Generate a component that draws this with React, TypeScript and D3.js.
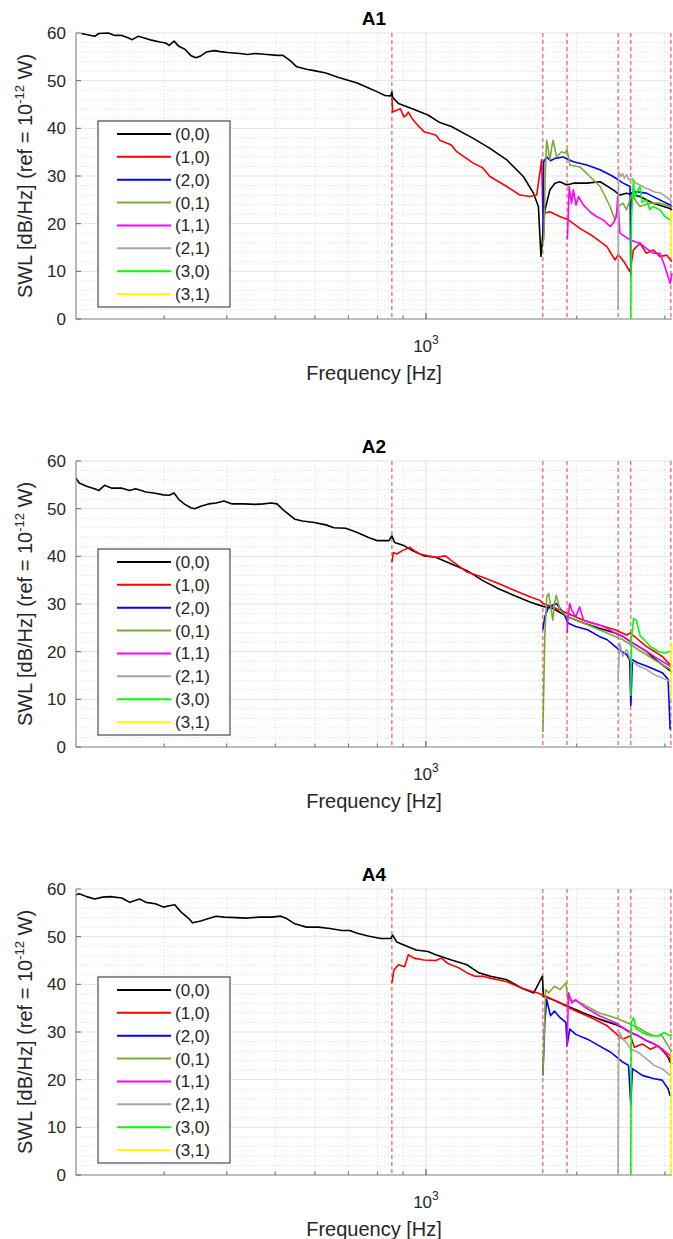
import React from 'react';
import * as d3 from 'd3';

// ---------- data ----------
const MODES = ['(0,0)', '(1,0)', '(2,0)', '(0,1)', '(1,1)', '(2,1)', '(3,0)', '(3,1)'];
const MODE_COLORS = ['#000000', '#ff0000', '#0000ff', '#77ac30', '#ff00ff', '#a6a6a6', '#00ff00', '#ffff00'];
const TITLES = ['A1', 'A2', 'A4'];
const CUTON_HZ = [855, 1712, 1913, 2420, 2565, 3084];
const X_DOMAIN = [200, 3100];
const Y_DOMAIN = [0, 60];
const Y_TICKS = [0, 10, 20, 30, 40, 50, 60];
const Y_MINOR = [2, 4, 6, 8, 12, 14, 16, 18, 22, 24, 26, 28, 32, 34, 36, 38, 42, 44, 46, 48, 52, 54, 56, 58];
const X_MAJOR = [1000];
const X_MINOR = [300, 400, 500, 600, 700, 800, 900, 2000, 3000];

type P = [number, number];

// ---- A1 ----
const a1_00: P[] = [[205, 59.9], [218, 59.3], [222, 59.9], [232, 60.0], [239, 59.5], [247, 59.5], [254, 59.0], [259, 58.6], [266, 59.3], [273, 59.0], [283, 58.5], [294, 58.1], [302, 57.9], [307, 57.4], [314, 58.3], [321, 57.2], [330, 56.6], [339, 55.3], [347, 54.8], [355, 55.2], [364, 56.0], [378, 56.3], [388, 56.1], [402, 55.9], [425, 55.7], [440, 55.5], [456, 55.7], [482, 55.5], [504, 55.3], [518, 55.3], [537, 54.1], [552, 52.9], [577, 52.4], [598, 52.1], [631, 51.6], [667, 50.7], [704, 50.0], [729, 49.5], [770, 48.4], [798, 47.7], [828, 46.9], [850, 46.8], [855, 47.6], [858, 46.5], [881, 45.2], [939, 44.1], [1009, 42.8], [1066, 41.2], [1124, 40.4], [1243, 37.9], [1342, 35.8], [1450, 33.4], [1565, 29.9], [1639, 26.4], [1677, 23.6], [1697, 13.1], [1712, 18.0], [1727, 22.7], [1768, 27.1], [1810, 28.5], [1851, 28.8], [1910, 28.1], [1970, 28.5], [2095, 28.5], [2227, 28.8], [2366, 27.1], [2440, 26.0], [2515, 26.4], [2675, 25.7], [2843, 24.3], [3073, 23.2], [3100, 22.8]];
const a1_10: P[] = [[855, 46.5], [858, 43.4], [874, 43.8], [889, 44.1], [903, 42.4], [914, 42.8], [922, 43.4], [939, 42.0], [956, 41.0], [991, 39.3], [1046, 38.6], [1066, 37.5], [1124, 36.5], [1152, 35.1], [1243, 32.7], [1299, 31.7], [1342, 29.9], [1450, 27.8], [1541, 26.0], [1613, 25.7], [1664, 26.0], [1702, 33.4], [1712, 22.2], [1768, 22.5], [1851, 21.5], [1925, 20.8], [2030, 19.0], [2160, 17.3], [2298, 15.2], [2385, 12.4], [2420, 13.5], [2440, 13.1], [2497, 11.7], [2556, 9.9], [2596, 14.5], [2675, 15.9], [2756, 13.8], [2843, 14.5], [2933, 13.1], [3026, 13.4], [3096, 12.0]];
const a1_20: P[] = [[1712, 17.8], [1718, 33.0], [1742, 34.0], [1773, 33.2], [1810, 33.7], [1880, 34.0], [1970, 33.0], [2095, 32.3], [2227, 31.3], [2366, 29.9], [2476, 28.5], [2556, 27.8], [2565, 9.0], [2570, 26.5], [2633, 26.7], [2756, 26.4], [2890, 25.3], [3073, 23.9], [3100, 23.5]];
const a1_01: P[] = [[1712, 15.7], [1721, 17.3], [1730, 30.0], [1742, 37.5], [1768, 33.4], [1783, 36.0], [1795, 37.5], [1823, 34.0], [1865, 35.1], [1894, 34.8], [1914, 35.5], [1938, 32.3], [2030, 31.9], [2125, 29.9], [2227, 27.8], [2332, 23.6], [2385, 20.8], [2420, 23.6], [2476, 24.3], [2515, 22.9], [2575, 26.0], [2675, 23.6], [2799, 24.3], [2933, 24.3], [3073, 23.6], [3100, 23.4]];
const a1_11: P[] = [[1913, 16.8], [1917, 17.3], [1932, 27.8], [1953, 24.3], [1970, 27.1], [1994, 23.9], [2016, 25.7], [2063, 23.9], [2125, 22.5], [2191, 21.5], [2258, 20.8], [2332, 19.4], [2366, 20.1], [2402, 21.5], [2415, 25.7], [2440, 18.0], [2556, 16.6], [2675, 15.9], [2756, 14.8], [2843, 13.8], [2933, 13.8], [3000, 11.0], [3073, 7.5], [3100, 9.6]];
const a1_21: P[] = [[2420, 2.0], [2425, 30.9], [2450, 29.9], [2470, 30.5], [2490, 29.5], [2515, 30.3], [2545, 29.2], [2580, 29.5], [2620, 28.6], [2675, 28.1], [2730, 27.6], [2800, 27.1], [2870, 26.6], [2933, 26.5], [3000, 25.8], [3073, 25.0], [3100, 24.6]];
const a1_30: P[] = [[2565, 0], [2570, 18.0], [2575, 22.2], [2596, 29.2], [2610, 25.5], [2633, 26.4], [2675, 27.8], [2700, 24.5], [2756, 25.0], [2800, 23.0], [2843, 23.6], [2933, 22.9], [3000, 21.5], [3073, 20.8], [3100, 21.0]];
const a1_31: P[] = [[3084, 13.0], [3087, 22.7], [3100, 21.5]];

// ---- A2 ----
const a2_00: P[] = [[200, 56.4], [203, 55.4], [210, 54.7], [220, 54.0], [222, 53.8], [228, 54.9], [236, 54.3], [247, 54.3], [256, 53.8], [263, 54.2], [276, 53.5], [286, 53.3], [299, 52.9], [307, 52.8], [314, 53.3], [321, 51.9], [330, 50.9], [339, 50.2], [345, 50.0], [355, 50.5], [368, 51.0], [381, 51.2], [395, 51.6], [410, 51.0], [432, 51.0], [456, 50.9], [473, 51.0], [491, 51.2], [504, 51.0], [518, 49.8], [532, 48.8], [547, 47.8], [567, 47.4], [598, 47.1], [631, 46.6], [655, 46.0], [691, 45.9], [729, 45.0], [770, 43.9], [798, 43.3], [843, 43.3], [855, 44.3], [866, 42.9], [906, 42.2], [939, 41.2], [991, 40.1], [1046, 39.8], [1124, 38.4], [1208, 37.0], [1299, 34.9], [1396, 33.2], [1500, 31.8], [1613, 30.4], [1712, 29.5], [1789, 29.1], [1920, 27.3], [2064, 26.0], [2219, 24.9], [2386, 23.9], [2472, 23.2], [2561, 22.1], [2656, 21.1], [2754, 20.1], [2856, 18.6], [2963, 17.3], [3073, 16.0], [3100, 15.8]];
const a2_10: P[] = [[855, 38.8], [861, 40.8], [874, 40.5], [897, 41.2], [930, 41.9], [947, 41.2], [973, 40.5], [1009, 40.1], [1046, 39.8], [1094, 40.1], [1124, 39.1], [1208, 36.7], [1299, 35.6], [1396, 34.3], [1500, 32.9], [1613, 31.5], [1687, 30.8], [1712, 30.1], [1789, 29.4], [1920, 28.0], [2064, 26.6], [2219, 25.6], [2386, 24.6], [2516, 23.5], [2561, 23.9], [2656, 22.5], [2754, 21.1], [2856, 20.1], [2963, 19.0], [3073, 17.3], [3100, 17.0]];
const a2_20: P[] = [[1712, 24.6], [1727, 27.3], [1758, 29.4], [1821, 30.1], [1886, 28.0], [1920, 26.0], [1991, 25.3], [2102, 24.6], [2219, 23.2], [2301, 22.5], [2386, 21.1], [2429, 20.4], [2516, 19.4], [2552, 18.3], [2565, 8.7], [2584, 18.3], [2656, 17.6], [2754, 17.0], [2856, 16.3], [2963, 15.6], [3045, 14.2], [3073, 3.8], [3084, 3.8]];
const a2_01: P[] = [[1712, 3.1], [1727, 23.2], [1742, 31.5], [1758, 32.2], [1792, 26.6], [1805, 30.1], [1821, 31.8], [1853, 28.7], [1920, 27.3], [2064, 26.0], [2219, 24.6], [2386, 23.2], [2472, 22.5], [2561, 21.5], [2656, 20.4], [2754, 19.4], [2856, 18.3], [2963, 17.3], [3073, 16.3], [3100, 16.0]];
const a2_11: P[] = [[1913, 23.9], [1920, 26.6], [1937, 30.1], [1955, 28.7], [1991, 27.3], [2027, 29.4], [2064, 26.6], [2140, 26.0], [2219, 25.6], [2301, 24.9], [2386, 23.9], [2472, 23.2], [2561, 22.1], [2656, 21.1], [2754, 20.1], [2856, 19.0], [2963, 18.0], [3073, 17.0], [3100, 16.8]];
const a2_21: P[] = [[2420, 14.2], [2437, 21.8], [2472, 19.0], [2516, 20.4], [2561, 18.3], [2656, 17.0], [2754, 16.3], [2856, 15.2], [2963, 14.5], [3073, 13.8], [3100, 13.5]];
const a2_30: P[] = [[2565, 10.7], [2574, 23.2], [2598, 27.0], [2631, 26.6], [2680, 23.2], [2729, 22.5], [2805, 21.1], [2909, 20.1], [2990, 19.7], [3073, 20.1], [3100, 19.8]];
const a2_31: P[] = [[3084, 10.0], [3090, 21.8], [3100, 20.4]];

// ---- A4 ----
const a4_00: P[] = [[200, 58.8], [203, 59.0], [210, 58.4], [218, 57.9], [226, 58.3], [234, 58.4], [247, 58.1], [256, 57.2], [268, 57.9], [276, 57.2], [288, 56.9], [299, 56.2], [307, 56.5], [315, 56.7], [324, 55.2], [336, 53.8], [342, 52.9], [355, 53.3], [368, 53.8], [381, 54.3], [395, 54.1], [417, 54.0], [440, 53.9], [465, 54.1], [491, 54.1], [513, 54.3], [527, 53.8], [547, 52.7], [577, 52.0], [609, 52.0], [643, 51.7], [679, 51.3], [704, 51.3], [729, 50.7], [770, 50.1], [813, 49.6], [850, 49.6], [858, 50.3], [874, 48.9], [906, 48.2], [956, 47.2], [1009, 46.9], [1046, 46.2], [1124, 45.1], [1208, 44.1], [1276, 42.4], [1346, 41.7], [1447, 41.0], [1555, 39.2], [1642, 38.2], [1708, 41.7], [1716, 37.5], [1789, 36.8], [1920, 35.4], [2064, 34.0], [2219, 32.7], [2386, 31.6], [2472, 30.9], [2561, 29.9], [2656, 29.2], [2754, 28.2], [2856, 27.5], [2963, 26.4], [3045, 24.7], [3073, 23.7], [3100, 23.3]];
const a4_10: P[] = [[855, 40.3], [863, 43.0], [881, 44.1], [906, 43.7], [922, 46.2], [947, 45.5], [991, 45.1], [1046, 45.0], [1075, 45.5], [1104, 44.4], [1166, 43.4], [1208, 42.4], [1253, 41.7], [1299, 41.7], [1346, 41.3], [1447, 40.6], [1555, 39.2], [1672, 38.2], [1734, 37.5], [1853, 36.1], [1991, 34.4], [2140, 33.0], [2301, 31.3], [2407, 29.5], [2472, 28.5], [2561, 29.2], [2607, 26.8], [2704, 27.5], [2805, 26.4], [2909, 27.1], [2990, 25.7], [3073, 24.4], [3100, 24.2]];
const a4_20: P[] = [[1712, 20.9], [1727, 32.0], [1742, 36.8], [1773, 33.4], [1805, 34.4], [1853, 33.0], [1903, 32.0], [1913, 27.1], [1937, 30.6], [1991, 29.5], [2102, 28.5], [2219, 27.1], [2343, 25.7], [2407, 24.7], [2472, 23.7], [2538, 23.0], [2565, 14.7], [2584, 22.3], [2704, 20.9], [2856, 20.2], [2963, 19.9], [3045, 18.1], [3073, 16.7], [3100, 16.5]];
const a4_01: P[] = [[1712, 20.9], [1733, 38.9], [1758, 38.2], [1805, 39.6], [1853, 38.9], [1903, 40.3], [1920, 36.8], [1991, 36.5], [2064, 35.8], [2219, 34.0], [2386, 33.0], [2516, 32.0], [2656, 30.9], [2754, 29.9], [2856, 29.2], [2963, 29.2], [3073, 26.4], [3100, 26.0]];
const a4_11: P[] = [[1913, 27.1], [1927, 38.2], [1955, 36.1], [1991, 36.8], [2064, 35.4], [2140, 34.4], [2219, 33.4], [2301, 32.7], [2386, 32.0], [2472, 30.9], [2561, 29.9], [2656, 29.2], [2754, 28.2], [2856, 27.5], [2963, 26.4], [3073, 25.1], [3100, 24.8]];
const a4_21: P[] = [[2420, 0], [2425, 23.7], [2437, 29.9], [2472, 28.5], [2516, 27.8], [2561, 26.4], [2656, 25.7], [2754, 24.4], [2856, 23.0], [2963, 22.3], [3073, 20.9], [3100, 20.5]];
const a4_30: P[] = [[2565, 0], [2570, 32.0], [2598, 33.0], [2631, 30.6], [2704, 29.9], [2805, 29.2], [2909, 29.2], [2990, 29.9], [3073, 29.2], [3100, 29.5]];
const a4_31: P[] = [[3084, 0], [3090, 25.7], [3100, 25.1]];

const PANEL_SERIES: P[][][] = [
  [a1_00, a1_10, a1_20, a1_01, a1_11, a1_21, a1_30, a1_31],
  [a2_00, a2_10, a2_20, a2_01, a2_11, a2_21, a2_30, a2_31],
  [a4_00, a4_10, a4_20, a4_01, a4_11, a4_21, a4_30, a4_31],
];

// ---------- layout ----------
const W = 673;
const H = 1239;
const LEFT = 76;
const RIGHT = 672;
const PANEL_TOPS = [33, 461, 889];
const PLOT_H = 286;
const TXT = '#262626';
const FONT = "'Liberation Sans', Arial, Helvetica, sans-serif";

function Panel({ idx }: { idx: number }) {
  const top = PANEL_TOPS[idx];
  const bottom = top + PLOT_H;
  const x = d3.scaleLog().domain(X_DOMAIN).range([LEFT, RIGHT]);
  const y = d3.scaleLinear().domain(Y_DOMAIN).range([bottom, top]);
  const line = d3
    .line<P>()
    .x((d) => x(d[0]))
    .y((d) => y(d[1]));
  const clipId = `clip${idx}`;
  const cx = (LEFT + RIGHT) / 2;

  const legTop = top + 88;
  const legBottom = bottom - 12;
  const legLeft = 98;
  const legRight = 230;
  const rowH = (legBottom - legTop - 26) / (MODES.length - 1);

  return (
    <g>
      <defs>
        <clipPath id={clipId}>
          <rect x={LEFT} y={top - 1} width={RIGHT - LEFT + 2} height={PLOT_H + 2} />
        </clipPath>
      </defs>
      {Y_MINOR.map((v) => (
        <line key={'ym' + v} x1={LEFT} x2={RIGHT} y1={y(v)} y2={y(v)} stroke="#d9d9d9" strokeWidth={0.8} strokeDasharray="1.5,2" />
      ))}
      {X_MINOR.map((f) => (
        <line key={'xm' + f} x1={x(f)} x2={x(f)} y1={top} y2={bottom} stroke="#d9d9d9" strokeWidth={0.8} strokeDasharray="1.5,2" />
      ))}
      {Y_TICKS.map((v) => (
        <line key={'yg' + v} x1={LEFT} x2={RIGHT} y1={y(v)} y2={y(v)} stroke="#e3e3e3" strokeWidth={1} />
      ))}
      {X_MAJOR.map((f) => (
        <line key={'xg' + f} x1={x(f)} x2={x(f)} y1={top} y2={bottom} stroke="#e3e3e3" strokeWidth={1} />
      ))}
      {CUTON_HZ.map((f) => (
        <line key={'c' + f} x1={x(f)} x2={x(f)} y1={top} y2={bottom} stroke="#e8393b" strokeWidth={1} strokeDasharray="4,3" />
      ))}
      <g clipPath={`url(#${clipId})`}>
        {PANEL_SERIES[idx].map((s, i) => (
          <path key={'s' + i} d={line(s) || ''} fill="none" stroke={MODE_COLORS[i]} strokeWidth={1.6} strokeLinejoin="round" />
        ))}
      </g>
      <line x1={LEFT} x2={LEFT} y1={top} y2={bottom} stroke="#8a8a8a" strokeWidth={1.2} />
      <line x1={LEFT} x2={RIGHT} y1={bottom} y2={bottom} stroke="#8a8a8a" strokeWidth={1.2} />
      {Y_TICKS.map((v) => (
        <g key={'yt' + v}>
          <line x1={LEFT} x2={LEFT + 5} y1={y(v)} y2={y(v)} stroke="#6a6a6a" strokeWidth={1} />
          <text x={LEFT - 10} y={y(v)} dy="0.35em" textAnchor="end" fontSize={17} fill={TXT}>
            {v}
          </text>
        </g>
      ))}
      {X_MINOR.map((f) => (
        <line key={'xt' + f} x1={x(f)} x2={x(f)} y1={bottom} y2={bottom - 3.5} stroke="#6a6a6a" strokeWidth={1} />
      ))}
      {X_MAJOR.map((f) => (
        <g key={'xT' + f}>
          <line x1={x(f)} x2={x(f)} y1={bottom} y2={bottom - 6} stroke="#4a4a4a" strokeWidth={1} />
          <text x={x(f)} y={bottom + 33} textAnchor="middle" fontSize={17} fill={TXT}>
            10
            <tspan dy={-8} fontSize={12}>
              {Math.round(Math.log10(f))}
            </tspan>
          </text>
        </g>
      ))}
      <text x={cx} y={top - 8} textAnchor="middle" fontSize={19} fontWeight="bold" fill="#000">
        {TITLES[idx]}
      </text>
      <text x={cx} y={bottom + 61} textAnchor="middle" fontSize={20} fill={TXT}>
        Frequency [Hz]
      </text>
      <text transform={`translate(32,${(top + bottom) / 2}) rotate(-90)`} textAnchor="middle" fontSize={20} fill={TXT}>
        SWL [dB/Hz] (ref = 10
        <tspan dy={-8} fontSize={13}>-12</tspan>
        <tspan dy={8}> W)</tspan>
      </text>
      <rect x={legLeft} y={legTop} width={legRight - legLeft} height={legBottom - legTop} fill="#fff" stroke="#262626" strokeWidth={1} />
      {MODES.map((m, i) => {
        const ly = legTop + 13 + i * rowH;
        return (
          <g key={'l' + i}>
            <line x1={117} x2={171} y1={ly} y2={ly} stroke={MODE_COLORS[i]} strokeWidth={2} />
            <text x={175} y={ly} dy="0.35em" fontSize={17} fill={TXT}>
              {m}
            </text>
          </g>
        );
      })}
    </g>
  );
}

export default function App() {
  return (
    <svg width={W} height={H} viewBox={`0 0 ${W} ${H}`} style={{ position: 'absolute', left: 0, top: 0, background: '#fff' }} fontFamily={FONT}>
      <rect x={0} y={0} width={W} height={H} fill="#fff" />
      {TITLES.map((t, i) => (
        <Panel key={t} idx={i} />
      ))}
    </svg>
  );
}
